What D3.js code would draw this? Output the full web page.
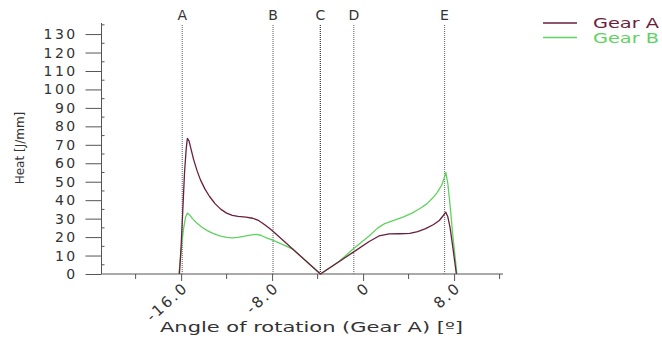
<!DOCTYPE html>
<html>
<head>
<meta charset="utf-8">
<script src="https://cdn.jsdelivr.net/npm/d3@7"></script>
<style>
  body { margin: 0; background: #fff; }
  text { font-family: "DejaVu Sans", Verdana, sans-serif; }
</style>
</head>
<body>
<svg id="chart" width="662" height="340"></svg>
<script>
// angle of rotation (Gear A) [deg] vs heat [J/mm]
const gearA = [
  [-16.15, 0], [-16.0, 15], [-15.85, 35], [-15.7, 55], [-15.55, 68], [-15.45, 73.5],
  [-15.3, 72], [-15.1, 67], [-14.9, 62], [-14.6, 56], [-14.3, 51], [-13.9, 46],
  [-13.5, 42], [-13.0, 38], [-12.5, 35], [-12.0, 33], [-11.5, 31.8], [-11.0, 31.2],
  [-10.3, 30.8], [-9.7, 30.2], [-9.2, 29], [-8.8, 27.4], [-8.3, 25], [-7.9, 23],
  [-3.75, 0],
  [-0.82, 12], [0.5, 17.5], [1.4, 20.6], [2.3, 21.7], [3.2, 21.8], [4.1, 22],
  [4.8, 23], [5.5, 24.6], [6.2, 26.8], [6.7, 29], [7.0, 31.3], [7.27, 33.5],
  [7.45, 31], [7.65, 25], [7.9, 14], [8.2, 0]
];
const gearB = [
  [-16.2, 0], [-16.0, 12], [-15.8, 24], [-15.6, 31], [-15.45, 33], [-15.25, 32],
  [-15.0, 30], [-14.6, 27.5], [-14.2, 25.5], [-13.7, 23.5], [-13.2, 22], [-12.6, 20.6],
  [-12.0, 19.8], [-11.5, 19.6], [-11.0, 19.9], [-10.4, 20.5], [-9.8, 21.2], [-9.4, 21.5],
  [-9.0, 21], [-8.5, 19.6], [-7.9, 18.2], [-7.0, 15.8], [-6.15, 13.3], [-3.75, 0],
  [-2.2, 6.4], [-0.8, 13.9], [0.5, 20.5], [1.3, 25], [1.9, 27.3], [2.7, 29],
  [3.5, 30.8], [4.3, 33], [5.0, 35.5], [5.6, 38], [6.1, 41], [6.5, 44],
  [6.9, 48], [7.1, 51.5], [7.27, 55], [7.45, 49], [7.65, 37], [7.9, 20], [8.25, 0]
];
const markerNames = ["A", "B", "C", "D", "E"];
const markerPos = [-15.9, -7.92, -3.76, -0.82, 7.16];
const xMajorTicks = [-16, -8, 0, 8];
const xMinorTicks = [-20, -12, -4, 4, 12];
const yTicks = d3.range(0, 131, 10);
const seriesNames = ["Gear A", "Gear B"];
const seriesColors = ["#6a1f3d", "#5fd35f"];

const svg = d3.select("#chart");
const plot = {left: 101.5, bottom: 274, top: 23, right: 503};

const xScale = d3.scaleLinear().domain([-23, 12.3]).range([plot.left, plot.right]);
const yScale = d3.scaleLinear().domain([0, 136]).range([plot.bottom, plot.top]);

const axisColor = "#555";

// y axis: long ticks outside, short minor ticks inside
const yAxisG = svg.append("g").attr("transform", `translate(${plot.left},0)`)
  .call(d3.axisLeft(yScale).tickValues(yTicks).tickSize(16).tickPadding(8).tickFormat(d3.format("d")));
yAxisG.select(".domain").remove();
yAxisG.selectAll(".tick line").attr("stroke", axisColor);
yAxisG.selectAll(".tick text")
  .attr("font-size", 14).attr("letter-spacing", "2.4px").attr("fill", "#333");
yAxisG.selectAll(".minor").data(d3.range(5, 136, 10)).enter().append("line")
  .attr("x1", 0).attr("x2", 3)
  .attr("y1", d => yScale(d)).attr("y2", d => yScale(d))
  .attr("stroke", axisColor);
yAxisG.append("line").attr("y1", plot.top).attr("y2", plot.bottom).attr("stroke", axisColor);

// x axis
const xAxisG = svg.append("g").attr("transform", `translate(0,${plot.bottom})`)
  .call(d3.axisBottom(xScale).tickValues(xMajorTicks).tickSize(7)
    .tickFormat(d => d === 0 ? "0" : d.toFixed(1)));
xAxisG.select(".domain").remove();
xAxisG.append("line").attr("x1", plot.left).attr("x2", plot.right).attr("stroke", axisColor);
xAxisG.selectAll(".tick line").attr("stroke", axisColor);
xAxisG.selectAll(".tick text")
  .attr("font-size", 15).attr("letter-spacing", "2.2px").attr("fill", "#333")
  .attr("text-anchor", "end").attr("x", 0).attr("y", 0).attr("dy", "0.35em")
  .attr("transform", "translate(4,11) rotate(-42)");
xAxisG.selectAll(".minorx").data(xMinorTicks).enter().append("line")
  .attr("x1", d => xScale(d)).attr("x2", d => xScale(d))
  .attr("y1", 0).attr("y2", 5).attr("stroke", axisColor);

// axis titles
svg.append("text")
  .attr("x", 160).attr("y", 332)
  .attr("font-size", 14).attr("fill", "#333")
  .attr("textLength", 303).attr("lengthAdjust", "spacingAndGlyphs")
  .text("Angle of rotation (Gear A) [º]");
svg.append("text")
  .attr("transform", "translate(24,148) rotate(-90)")
  .attr("text-anchor", "middle").attr("font-size", 12).attr("fill", "#333")
  .text("Heat [J/mm]");

// marker lines A-E
const mg = svg.append("g");
mg.selectAll("line").data(markerPos).enter().append("line")
  .attr("x1", d => xScale(d)).attr("x2", d => xScale(d))
  .attr("y1", plot.top + 2).attr("y2", plot.bottom)
  .attr("stroke", (d, i) => i === 2 ? "#333" : "#777")
  .attr("stroke-width", 1.2)
  .attr("stroke-dasharray", "1,1");
mg.selectAll("text").data(markerNames).enter().append("text")
  .attr("x", (d, i) => xScale(markerPos[i]))
  .attr("y", 20).attr("text-anchor", "middle")
  .attr("font-size", 14).attr("fill", "#333")
  .text(d => d);

// series
const line = d3.line()
  .x(d => xScale(d[0]))
  .y(d => yScale(d[1]));

[gearB, gearA].forEach((data, k) => {
  svg.append("path").datum(data)
    .attr("fill", "none")
    .attr("stroke", seriesColors[1 - k])
    .attr("stroke-width", 1.3)
    .attr("stroke-linejoin", "round")
    .attr("d", line);
});

// legend
const lg = svg.append("g");
seriesNames.forEach((name, i) => {
  lg.append("line")
    .attr("x1", 543).attr("x2", 577)
    .attr("y1", 23 + i * 14.5).attr("y2", 23 + i * 14.5)
    .attr("stroke", seriesColors[i]).attr("stroke-width", 1.3);
  lg.append("text")
    .attr("x", 593).attr("y", 28 + i * 14.5)
    .attr("font-size", 14)
    .attr("textLength", 66).attr("lengthAdjust", "spacingAndGlyphs")
    .attr("fill", seriesColors[i])
    .text(name);
});
</script>
</body>
</html>
